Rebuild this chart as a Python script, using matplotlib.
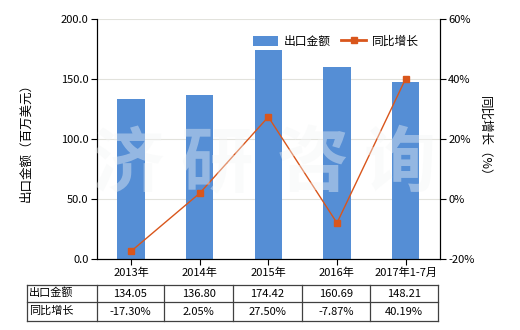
import matplotlib

matplotlib.use("Agg")

import matplotlib.pyplot as plt
from matplotlib.lines import Line2D
from matplotlib.patches import Patch

plt.rcParams["font.family"] = ["Noto Sans CJK SC", "DejaVu Sans"]

categories = ["2013年", "2014年", "2015年", "2016年", "2017年1-7月"]
export_value = [134.05, 136.80, 174.42, 160.69, 148.21]
yoy_growth = [-17.30, 2.05, 27.50, -7.87, 40.19]
left_ticks = [0, 50, 100, 150, 200]
right_ticks = [-20, 0, 20, 40, 60]

bar_color = "#558ED5"
line_color = "#D9561C"

fig = plt.figure(figsize=(5.2, 3.3), dpi=100)
ax = fig.add_axes([0.186, 0.214, 0.660, 0.7273])
x = list(range(len(categories)))

ax.bar(x, export_value, width=0.4, color=bar_color, zorder=2)
ax.set_xlim(-0.5, len(categories) - 0.5)
ax.set_ylim(0, 200)
ax.set_yticks(left_ticks)
ax.set_yticklabels([f"{v:.1f}" for v in left_ticks], fontsize=8)
ax.set_xticks(x)
ax.set_xticklabels(categories, fontsize=8)
ax.tick_params(axis="both", length=4, width=0.8, pad=2)
ax.grid(axis="y", color="#e2e2dc", linewidth=0.8, zorder=0)
ax.spines["top"].set_visible(False)
ax.set_ylabel("出口金额（百万美元）", fontsize=9, labelpad=20)

ax2 = ax.twinx()
ax2.plot(x, yoy_growth, color=line_color, linewidth=1.0, marker="s",
         markersize=5, zorder=3)
ax2.set_ylim(-20, 60)
ax2.set_yticks(right_ticks)
ax2.set_yticklabels([f"{v}%" for v in right_ticks], fontsize=8)
ax2.tick_params(axis="y", length=4, width=0.8, pad=2)
ax2.spines["top"].set_visible(False)
ax2.set_ylabel("同比增长（%）", fontsize=9, rotation=270, labelpad=12)

# watermark
for cx, ch in zip([128, 217, 313, 400], "济研咨询"):
    fig.text(cx / 520, 1 - 165 / 330, ch, fontsize=52, fontweight="bold",
             color="#f4f6f6", alpha=0.4, ha="center", va="center", zorder=5)

handles = [
    Patch(facecolor=bar_color),
    Line2D([0], [0], color=line_color, linewidth=2, marker="s", markersize=4),
]
ax2.legend(handles, ["出口金额", "同比增长"], loc="upper right",
           bbox_to_anchor=(0.97, 0.98), ncol=2, frameon=False, fontsize=8.5,
           handlelength=2.1, handleheight=0.9, columnspacing=0.9,
           handletextpad=0.5)

# data table below the chart
col_edges = [26.7, 96.7, 164.3, 233.3, 301.7, 370.3, 438.3]
row_edges = [285, 302.3, 321]
W, H = 520, 330
for yy in row_edges:
    fig.add_artist(Line2D([col_edges[0] / W, col_edges[-1] / W],
                          [1 - yy / H, 1 - yy / H], color="#404040", linewidth=0.9))
for xx in col_edges:
    fig.add_artist(Line2D([xx / W, xx / W],
                          [1 - row_edges[0] / H, 1 - row_edges[-1] / H],
                          color="#404040", linewidth=0.9))

rows = [
    ("出口金额", [f"{v:.2f}" for v in export_value]),
    ("同比增长", [f"{v:.2f}%" for v in yoy_growth]),
]
for r, (name, cells) in enumerate(rows):
    yc = 1 - (row_edges[r] + row_edges[r + 1]) / 2 / H
    fig.text((col_edges[0] + 2) / W, yc + 0.004, name, fontsize=8,
             ha="left", va="center")
    for c, cell in enumerate(cells):
        xc = (col_edges[c + 1] + col_edges[c + 2]) / 2 / W
        fig.text(xc, yc, cell, fontsize=8, ha="center", va="center")

fig.savefig("out.png", dpi=100)
plt.close(fig)
